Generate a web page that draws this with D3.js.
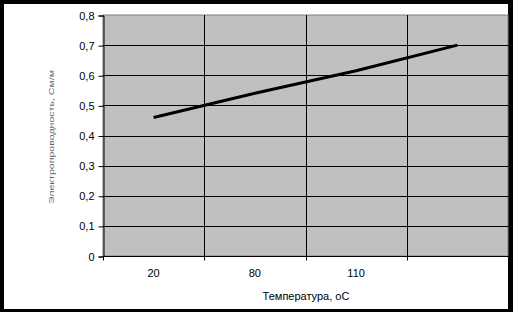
<!DOCTYPE html>
<head>
<meta charset="utf-8">
<script src="https://d3js.org/d3.v7.min.js"></script>
<style>
    html, body { margin: 0; padding: 0; background: #000; }
    svg { display: block; }
    text { font-family: "Liberation Sans", Arial, sans-serif; }
</style>
</head>
<body>
<div id="container"></div>
<script>
    // данные графика
    var categories = ['20', '80', '110', ''];
    var values = [0.46, 0.54, 0.615, 0.70];
    var yTicks = [0, 0.1, 0.2, 0.3, 0.4, 0.5, 0.6, 0.7, 0.8];
    var xTitle = 'Температура, оС';
    var yTitle = 'Электропроводность, См/м';

    var W = 513, H = 312;
    var plot = {left: 103, top: 15, right: 508, bottom: 256};

    var svg = d3.select('#container').append('svg').attr('width', W).attr('height', H);
    // белое поле внутри черной рамки
    svg.append('rect').attr('x', 4).attr('y', 4).attr('width', 504).attr('height', 305).attr('fill', '#fff');

    var x = d3.scaleBand().domain(d3.range(categories.length)).range([plot.left, plot.right]);
    var y = d3.scaleLinear().domain([0, 0.8]).range([plot.bottom, plot.top]);

    svg.append('rect')
        .attr('x', plot.left).attr('y', plot.top)
        .attr('width', plot.right - plot.left).attr('height', plot.bottom - plot.top)
        .attr('fill', '#c0c0c0').attr('stroke', '#808080').attr('stroke-width', 1);

    //горизонтальная сетка
    svg.append('g').selectAll('line').data(yTicks.slice(1, -1)).enter().append('line')
        .attr('x1', plot.left).attr('x2', plot.right)
        .attr('y1', d => Math.round(y(d)) + 0.5).attr('y2', d => Math.round(y(d)) + 0.5)
        .attr('stroke', '#000');
    //вертикальная сетка
    svg.append('g').selectAll('line').data(d3.range(1, categories.length)).enter().append('line')
        .attr('x1', d => Math.round(x(d)) + 0.5).attr('x2', d => Math.round(x(d)) + 0.5)
        .attr('y1', plot.top).attr('y2', plot.bottom)
        .attr('stroke', '#000');

    // ось Y
    var yAxis = svg.append('g').attr('transform', 'translate(' + (plot.left + 0.5) + ',0.5)')
        .call(d3.axisLeft(y).tickValues(yTicks).tickSize(5).tickPadding(4)
            .tickFormat(d => d3.format('.1f')(d).replace('.', ',').replace(/^0,0$/, '0')));
    yAxis.select('.domain').attr('stroke', '#000');
    yAxis.selectAll('text').attr('font-size', 11).attr('fill', '#000').attr('font-family', '"Liberation Sans", Arial, sans-serif');

    // ось X
    var xg = svg.append('g').attr('transform', 'translate(0,' + (plot.bottom + 0.5) + ')');
    xg.append('line').attr('x1', plot.left).attr('x2', plot.right).attr('stroke', '#000');
    xg.selectAll('line.tk').data(d3.range(categories.length + 1)).enter().append('line').attr('class', 'tk')
        .attr('x1', d => Math.round(plot.left + d * x.step()) + 0.5)
        .attr('x2', d => Math.round(plot.left + d * x.step()) + 0.5)
        .attr('y1', 0).attr('y2', 4).attr('stroke', '#000');
    xg.selectAll('text').data(categories).enter().append('text')
        .attr('x', (d, i) => x(i) + x.bandwidth() / 2)
        .attr('y', 20)
        .attr('text-anchor', 'middle').attr('font-size', 11)
        .text(d => d);

    svg.append('text').attr('x', 306).attr('y', 300).attr('text-anchor', 'middle')
        .attr('font-size', 11).text(xTitle);

    svg.append('text')
        .attr('transform', 'translate(54,137) rotate(-90)')
        .attr('text-anchor', 'middle').attr('font-size', 8).attr('fill', '#666')
        .attr('textLength', 134).attr('lengthAdjust', 'spacingAndGlyphs')
        .text(yTitle);

    // линия
    var line = d3.line().x((d, i) => x(i) + x.bandwidth() / 2).y(d => y(d));
    svg.append('path').datum(values).attr('d', line)
        .attr('fill', 'none').attr('stroke', '#000').attr('stroke-width', 3);
</script>
</body>
